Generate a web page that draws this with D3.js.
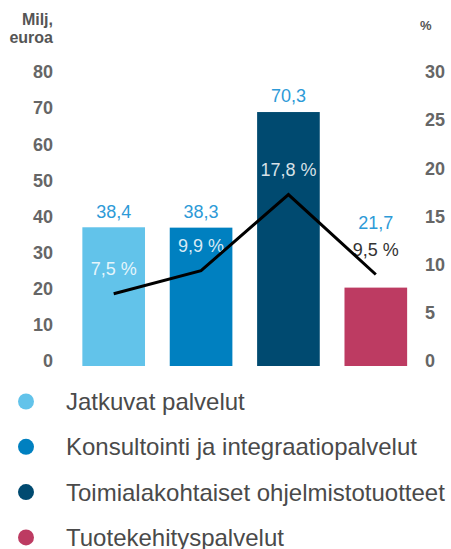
<!DOCTYPE html>
<html>
<head>
<meta charset="utf-8">
<script src="https://cdn.jsdelivr.net/npm/d3@7"></script>
<style>
  body { margin: 0; background: #fff; }
  svg { display: block; font-family: "Liberation Sans", Arial, sans-serif; }
</style>
</head>
<body>
<svg id="chart" width="451" height="549"></svg>
<script>
// data
const categories = ["Jatkuvat palvelut", "Konsultointi ja integraatiopalvelut",
                    "Toimialakohtaiset ohjelmistotuotteet", "Tuotekehityspalvelut"];
const revenue = [38.4, 38.3, 70.3, 21.7];     // Milj. euroa (left axis)
const share = [7.5, 9.9, 17.8, 9.5];          // % (right axis, line)
const leftTicks = [0, 10, 20, 30, 40, 50, 60, 70, 80];
const rightTicks = [0, 5, 10, 15, 20, 25, 30];
const barColors = ["#62c3ea", "#0080c0", "#004a70", "#bd3b62"];

const fmt = v => d3.format(".1f")(v).replace(".", ",");

const svg = d3.select("#chart");

// scales
const x = d3.scaleBand()
  .domain(d3.range(categories.length))
  .range([70, 419.5])
  .paddingInner(0.283)
  .paddingOuter(0.1415);
const yL = d3.scaleLinear().domain([0, 80]).range([366, 77]);
const yR = d3.scaleLinear().domain([0, 30]).range([366, 77]);

// left axis (labels only)
const axisL = svg.append("g")
  .attr("transform", "translate(53,-5)")
  .call(d3.axisLeft(yL).tickValues(leftTicks).tickSize(0).tickPadding(0));
axisL.select(".domain").remove();
axisL.selectAll("text")
  .attr("fill", "#666").attr("font-size", 18).attr("font-weight", "bold")
  .attr("font-family", "Liberation Sans, Arial, sans-serif");

// right axis (labels only)
const axisR = svg.append("g")
  .attr("transform", "translate(425,-5)")
  .call(d3.axisRight(yR).tickValues(rightTicks).tickSize(0).tickPadding(0));
axisR.select(".domain").remove();
axisR.selectAll("text")
  .attr("fill", "#666").attr("font-size", 18).attr("font-weight", "bold")
  .attr("font-family", "Liberation Sans, Arial, sans-serif");

// axis titles
svg.append("text").attr("x", 53).attr("y", 25).attr("text-anchor", "end")
  .attr("fill", "#555").attr("font-size", 16).attr("font-weight", "bold").text("Milj,");
svg.append("text").attr("x", 53).attr("y", 43).attr("text-anchor", "end")
  .attr("fill", "#555").attr("font-size", 16).attr("font-weight", "bold").text("euroa");
svg.append("text").attr("x", 420).attr("y", 29.5)
  .attr("fill", "#555").attr("font-size", 13).attr("font-weight", "bold").text("%");

// bars
svg.append("g").selectAll("rect")
  .data(revenue)
  .enter()
  .append("rect")
  .attr("x", (d, i) => x(i))
  .attr("y", d => yL(d))
  .attr("width", x.bandwidth())
  .attr("height", d => yL(0) - yL(d))
  .attr("fill", (d, i) => barColors[i]);

// percentage labels: sit above the line point, white when inside the bar
const pctY = share.map(p => yR(p) - 25);
const inside = (i) => pctY[i] - 8 > yL(revenue[i]);
svg.append("g").selectAll("text")
  .data(share)
  .enter()
  .append("text")
  .attr("x", (d, i) => x(i) + x.bandwidth() / 2)
  .attr("y", (d, i) => pctY[i])
  .attr("dy", "0.35em")
  .attr("text-anchor", "middle")
  .attr("font-size", 18)
  .attr("fill", (d, i) => inside(i) ? "#fff" : "#333")
  .attr("fill-opacity", (d, i) => inside(i) ? 0.85 : 1)
  .text(d => fmt(d) + " %");

// value labels above bars, pushed up if they would hit the % label
svg.append("g").selectAll("text")
  .data(revenue)
  .enter()
  .append("text")
  .attr("x", (d, i) => x(i) + x.bandwidth() / 2)
  .attr("y", (d, i) => Math.min(yL(d) - 16, pctY[i] - 27))
  .attr("dy", "0.35em")
  .attr("text-anchor", "middle")
  .attr("font-size", 18)
  .attr("fill", "#2d9ad7")
  .text(d => fmt(d));

// line for share %
const line = d3.line()
  .x((d, i) => x(i) + x.bandwidth() / 2)
  .y(d => yR(d));
svg.append("path")
  .datum(share)
  .attr("d", line)
  .attr("fill", "none")
  .attr("stroke", "#000")
  .attr("stroke-width", 3)
  .attr("stroke-linejoin", "miter");

// legend
const legend = svg.append("g").selectAll("g")
  .data(categories)
  .enter()
  .append("g")
  .attr("transform", (d, i) => "translate(0," + (401.5 + i * 45.3) + ")");
legend.append("circle")
  .attr("cx", 26).attr("cy", 0).attr("r", 8)
  .attr("fill", (d, i) => barColors[i]);
legend.append("text")
  .attr("x", 66).attr("y", 0).attr("dy", "0.35em")
  .attr("font-size", 24)
  .attr("fill", "#4a4a4a")
  .text(d => d);
</script>
</body>
</html>
